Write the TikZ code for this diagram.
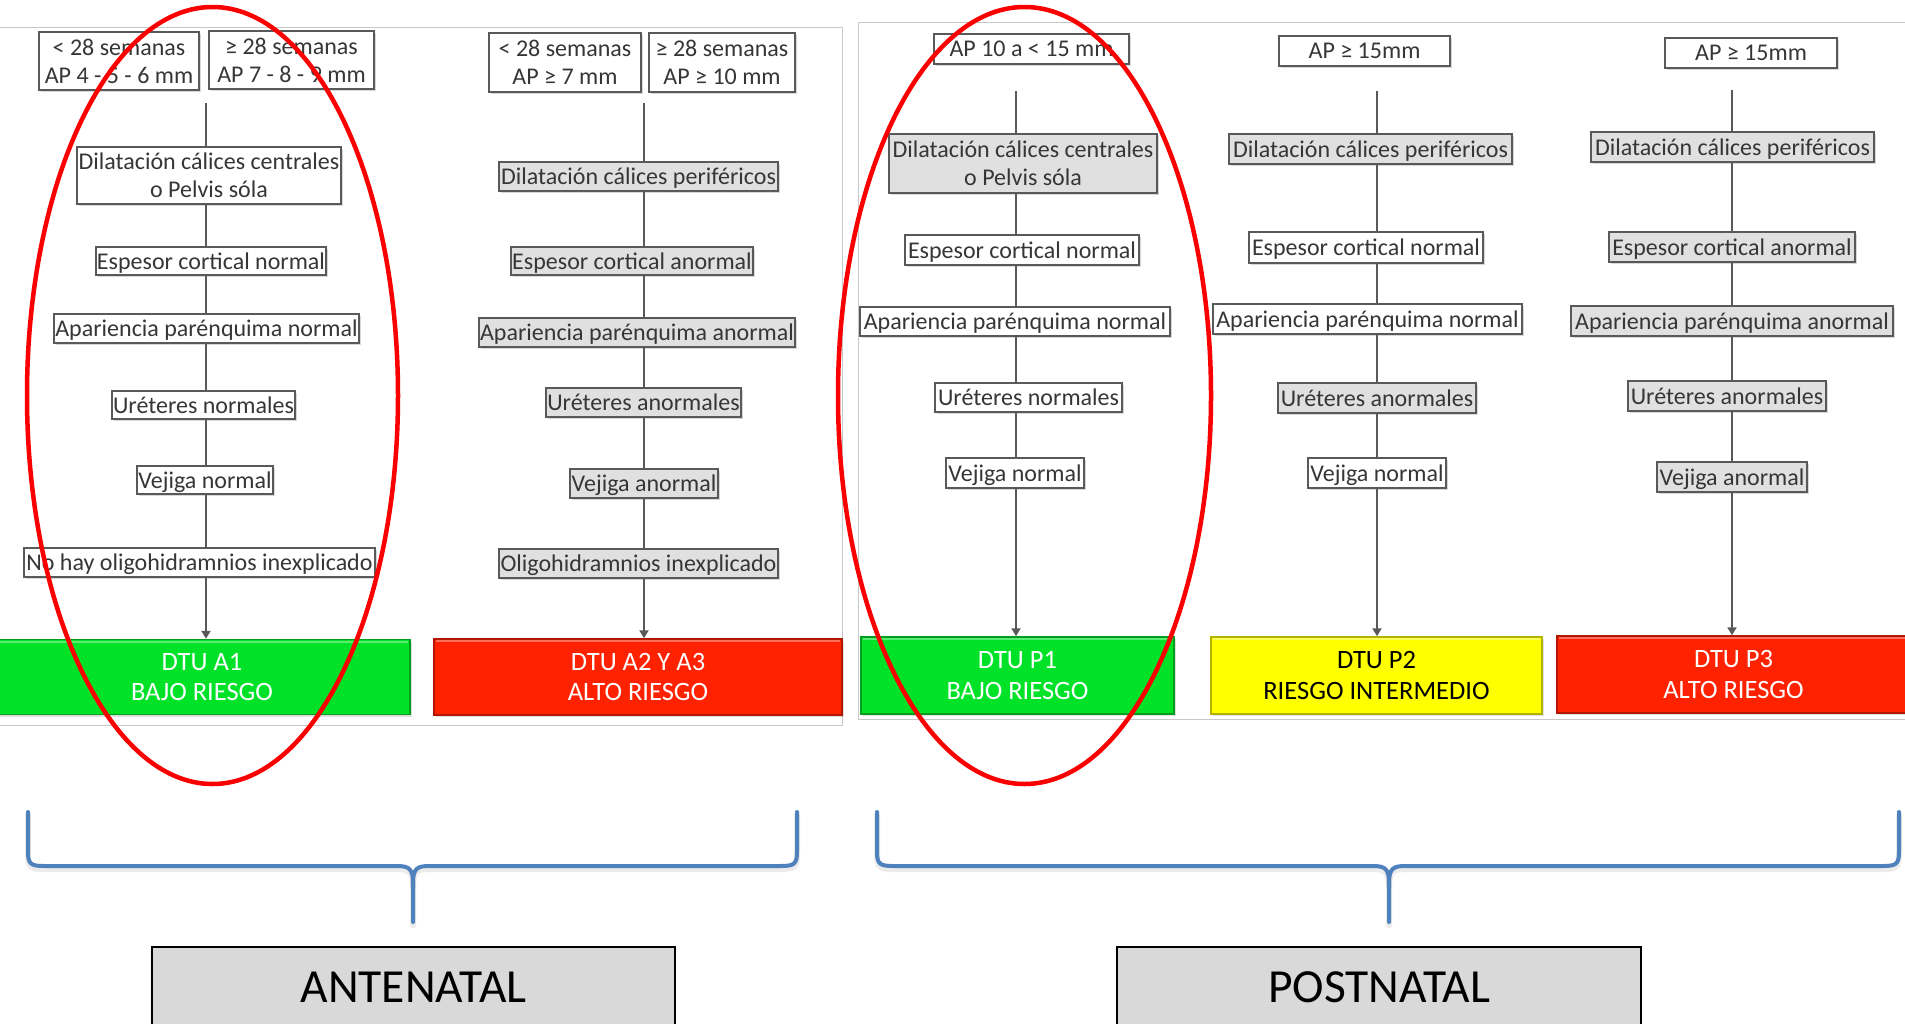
\documentclass[tikz,border=0pt]{standalone}
\usepackage{fontspec}
\setmainfont{Carlito}
\usetikzlibrary{shadows,arrows.meta}
\definecolor{boxline}{HTML}{595959}
\definecolor{boxtext}{HTML}{363636}
\definecolor{boxgray}{HTML}{E0E0E0}
\definecolor{panelline}{HTML}{C8C8C8}
\definecolor{riskgreen}{RGB}{0,226,40}
\definecolor{riskred}{RGB}{255,34,0}
\definecolor{riskyellow}{RGB}{255,255,0}
\definecolor{bracecol}{HTML}{4F81BD}
\definecolor{titlegray}{HTML}{D9D9D9}
\definecolor{ringred}{RGB}{250,0,0}

\begin{document}
\begin{tikzpicture}[x=1pt,y=-1pt,
  crit/.style={draw=boxline, line width=1.4pt, fill=white, text=boxtext,
    inner sep=0.5pt, align=center, font=\fontsize{24}{28}\selectfont, text depth=0pt,
    drop shadow={shadow xshift=1.5pt, shadow yshift=-2pt, opacity=.3}},
  critgray/.style={crit, fill=boxgray},
  sz/.style 2 args={minimum width=#1, minimum height=#2},
  conn/.style={draw=boxline, line width=2pt},
  connend/.style={conn, -{Triangle[width=9pt,length=8pt]}},
  risk/.style={draw=#1!70!black, line width=1.5pt, fill=#1, align=center,
    font=\fontsize{26.5}{30.5}\selectfont, inner sep=0pt, text depth=0pt,
    drop shadow={shadow xshift=1.5pt, shadow yshift=-2pt, opacity=.25}},
  panel/.style={draw=panelline, line width=1pt},
  brace/.style={draw=bracecol, line width=4pt, line cap=round, line join=round},
  braceshade/.style={draw=black, opacity=.08, line width=6pt, line cap=round, line join=round},
  ring/.style={draw=ringred, line width=4.5pt},
  title/.style={draw=black, line width=2pt, fill=titlegray,
    font=\fontsize{47.5}{50}\selectfont}
]
\useasboundingbox (0,0) rectangle (1905,1023);
\clip (0,0) rectangle (1905,1023);
\fill[white] (0,0) rectangle (1905,1023);

% panels
\draw[panel] (-5,27) rectangle (842,725);
\draw[panel] (858,22) rectangle (1915,719);

% ---------------- Antenatal, low risk ----------------
\node[crit, sz={160}{58}] (a0a) at (119,61) {< 28 semanas\\AP 4 - 5 - 6 mm};
\node[crit, sz={165}{58}] (a0b) at (291.5,60) {≥ 28 semanas\\AP 7 - 8 - 9 mm};
\coordinate (ta) at (206,103);
\node[crit, sz={264}{57}] (a1) at (209,175.5) {Dilatación cálices centrales\\o Pelvis sóla};
\node[crit, sz={230}{28}] (a2) at (211,261) {Espesor cortical normal};
\node[crit, sz={305}{29}] (a3) at (206.5,328.5) {Apariencia parénquima normal};
\node[crit, sz={183}{28}] (a4) at (203.5,405) {Uréteres normales};
\node[crit, sz={136}{28}] (a5) at (205,480) {Vejiga normal};
\node[crit, sz={351}{29}] (a6) at (199.5,562.5) {No hay oligohidramnios inexplicado};
\node[risk=riskgreen, text=white, sz={416}{75}] (ra) at (202,677) {DTU A1\\BAJO RIESGO};

\draw[conn] (ta) -- (a1.north -| ta);
\draw[conn] (a1.south -| ta) -- (a2.north -| ta);
\draw[conn] (a2.south -| ta) -- (a3.north -| ta);
\draw[conn] (a3.south -| ta) -- (a4.north -| ta);
\draw[conn] (a4.south -| ta) -- (a5.north -| ta);
\draw[conn] (a5.south -| ta) -- (a6.north -| ta);
\draw[connend] (a6.south -| ta) -- (ra.north -| ta);

% ---------------- Antenatal, high risk ----------------
\node[crit, sz={152}{59}] (b0a) at (565,62.5) {< 28 semanas\\AP ≥ 7 mm};
\node[crit, sz={146}{59}] (b0b) at (722,62.5) {≥ 28 semanas\\AP ≥ 10 mm};
\coordinate (tb) at (644,103);
\node[critgray, sz={279}{29}] (b1) at (638.5,176.5) {Dilatación cálices periféricos};
\node[critgray, sz={242}{28}] (b2) at (632,261) {Espesor cortical anormal};
\node[critgray, sz={316}{29}] (b3) at (637,332.5) {Apariencia parénquima anormal};
\node[critgray, sz={195}{29}] (b4) at (643.5,402.5) {Uréteres anormales};
\node[critgray, sz={148}{29}] (b5) at (644,483.5) {Vejiga anormal};
\node[critgray, sz={279}{29}] (b6) at (638.5,563.5) {Oligohidramnios inexplicado};
\node[risk=riskred, text=white, sz={408}{76}] (rb) at (638,677) {DTU A2 Y A3\\ALTO RIESGO};

\draw[conn] (tb) -- (b1.north -| tb);
\draw[conn] (b1.south -| tb) -- (b2.north -| tb);
\draw[conn] (b2.south -| tb) -- (b3.north -| tb);
\draw[conn] (b3.south -| tb) -- (b4.north -| tb);
\draw[conn] (b4.south -| tb) -- (b5.north -| tb);
\draw[conn] (b5.south -| tb) -- (b6.north -| tb);
\draw[connend] (b6.south -| tb) -- (rb.north -| tb);

% ---------------- Postnatal P1 ----------------
\node[crit, sz={195}{30}] (p0) at (1031.5,49) {AP 10 a < 15 mm};
\coordinate (tp) at (1016,91);
\node[critgray, sz={268}{59}] (p1) at (1023,163.5) {Dilatación cálices centrales\\o Pelvis sóla};
\node[crit, sz={234}{30}] (p2) at (1022,250) {Espesor cortical normal};
\node[crit, sz={310}{29}] (p3) at (1015,321.5) {Apariencia parénquima normal};
\node[crit, sz={187}{29}] (p4) at (1028.5,397.5) {Uréteres normales};
\node[crit, sz={138}{30}] (p5) at (1015,473) {Vejiga normal};
\node[risk=riskgreen, text=white, sz={313}{77}] (rp1) at (1017.5,675.5) {DTU P1\\BAJO RIESGO};

\draw[conn] (tp) -- (p1.north -| tp);
\draw[conn] (p1.south -| tp) -- (p2.north -| tp);
\draw[conn] (p2.south -| tp) -- (p3.north -| tp);
\draw[conn] (p3.south -| tp) -- (p4.north -| tp);
\draw[conn] (p4.south -| tp) -- (p5.north -| tp);
\draw[connend] (p5.south -| tp) -- (rp1.north -| tp);

% ---------------- Postnatal P2 ----------------
\node[crit, sz={171}{30}] (q0) at (1364.5,51) {AP ≥ 15mm};
\coordinate (tq) at (1377,91);
\node[critgray, sz={283}{30}] (q1) at (1370.5,149) {Dilatación cálices periféricos};
\node[crit, sz={234}{31}] (q2) at (1366,247.5) {Espesor cortical normal};
\node[crit, sz={309}{30}] (q3) at (1367.5,319) {Apariencia parénquima normal};
\node[critgray, sz={198}{30}] (q4) at (1377,398) {Uréteres anormales};
\node[crit, sz={138}{30}] (q5) at (1377,473) {Vejiga normal};
\node[risk=riskyellow, text=black, sz={331}{77}] (rp2) at (1376.5,675.5) {DTU P2\\RIESGO INTERMEDIO};

\draw[conn] (tq) -- (q1.north -| tq);
\draw[conn] (q1.south -| tq) -- (q2.north -| tq);
\draw[conn] (q2.south -| tq) -- (q3.north -| tq);
\draw[conn] (q3.south -| tq) -- (q4.north -| tq);
\draw[conn] (q4.south -| tq) -- (q5.north -| tq);
\draw[connend] (q5.south -| tq) -- (rp2.north -| tq);

% ---------------- Postnatal P3 ----------------
\node[crit, sz={172}{30}] (s0) at (1751,53) {AP ≥ 15mm};
\coordinate (ts) at (1732,90);
\node[critgray, sz={283}{30}] (s1) at (1732.5,147) {Dilatación cálices periféricos};
\node[critgray, sz={246}{30}] (s2) at (1732,247) {Espesor cortical anormal};
\node[critgray, sz={322}{30}] (s3) at (1732,321) {Apariencia parénquima anormal};
\node[critgray, sz={198}{30}] (s4) at (1727,396) {Uréteres anormales};
\node[critgray, sz={150}{30}] (s5) at (1732,477) {Vejiga anormal};
\node[risk=riskred, text=white, sz={353}{77}] (rp3) at (1733.5,674.5) {DTU P3\\ALTO RIESGO};

\draw[conn] (ts) -- (s1.north -| ts);
\draw[conn] (s1.south -| ts) -- (s2.north -| ts);
\draw[conn] (s2.south -| ts) -- (s3.north -| ts);
\draw[conn] (s3.south -| ts) -- (s4.north -| ts);
\draw[conn] (s4.south -| ts) -- (s5.north -| ts);
\draw[connend] (s5.south -| ts) -- (rp3.north -| ts);

% bevel highlights on the risk bars
\foreach \r in {ra,rb,rp1,rp2,rp3}{
  \draw[white, opacity=.35, line width=2pt]
    ([xshift=3pt,yshift=-3pt]\r.north west) -- ([xshift=-3pt,yshift=-3pt]\r.north east);
}

% curly braces (soft shadow first, then the blue stroke)
\foreach \st/\dy in {braceshade/3, brace/0}{
\begin{scope}[\st, yshift=-\dy pt]
  \draw (28,812) -- (28,852) .. controls (28,864) and (31,866) .. (44,866) -- (396,866)
        .. controls (409,866) and (413,868) .. (413,884) -- (413,922);
  \draw (797,812) -- (797,852) .. controls (797,864) and (794,866) .. (781,866) -- (430,866)
        .. controls (417,866) and (413,868) .. (413,884);
  \draw (877,812) -- (877,852) .. controls (877,864) and (880,866) .. (893,866) -- (1372,866)
        .. controls (1385,866) and (1389,868) .. (1389,884) -- (1389,922);
  \draw (1899,812) -- (1899,852) .. controls (1899,864) and (1896,866) .. (1883,866) -- (1406,866)
        .. controls (1393,866) and (1389,868) .. (1389,884);
\end{scope}
}

% section titles
\node[title, sz={523}{80}] (ant) at (413.5,987) {ANTENATAL};
\node[title, sz={524}{80}] (post) at (1379,987) {POSTNATAL};

% highlighted low-risk groups
\draw[ring] (212.5,395.5) ellipse [x radius=185.5, y radius=388.5];
\draw[ring] (1024.5,395.5) ellipse [x radius=186.5, y radius=388.5];
\end{tikzpicture}
\end{document}
